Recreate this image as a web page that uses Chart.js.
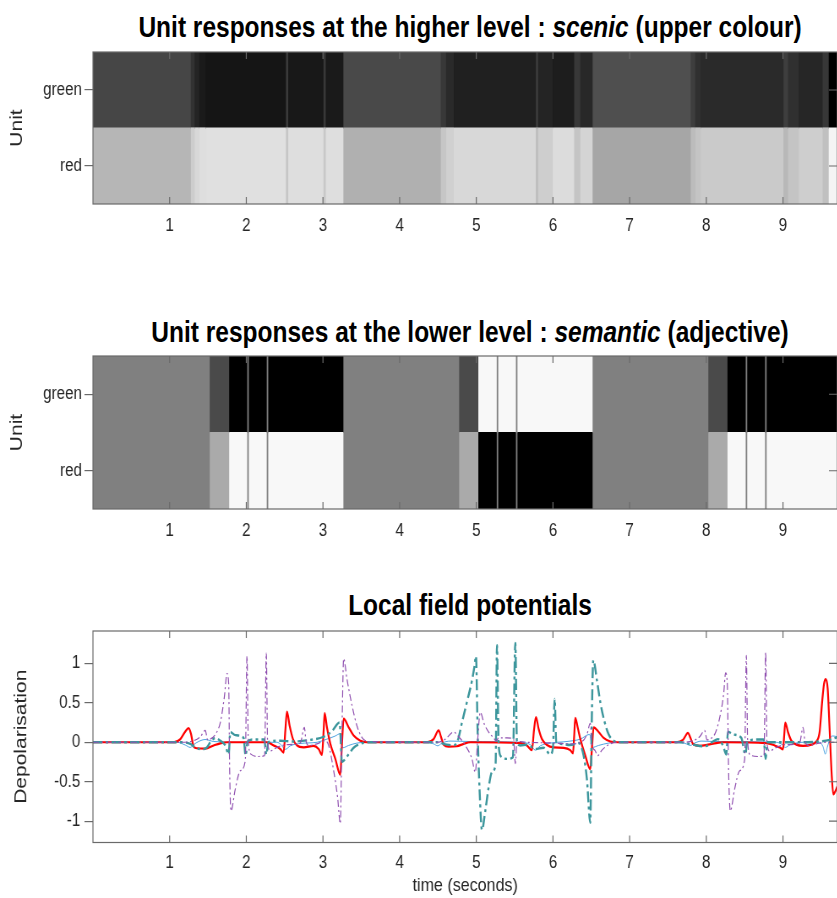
<!DOCTYPE html>
<html>
<head>
	<meta charset="utf-8">
	<title>Unit responses and local field potentials</title>
	<script src="https://cdn.jsdelivr.net/npm/chart.js@4.4.1/dist/chart.umd.min.js"></script>
	<style>
		html, body {
			margin: 0;
			padding: 0;
			background: #fff;
		}
		body {
			position: relative;
			width: 837px;
			height: 898px;
			overflow: hidden;
			font-family: "Liberation Sans", Arial, sans-serif;
		}
		/* the original figure is squeezed sideways, so the canvases are too */
		canvas {
			position: absolute;
			left: 0;
			transform: scaleX(0.845);
			transform-origin: 0 0;
		}
		.ttl {
			position: absolute;
			left: 470px;
			white-space: nowrap;
			font-weight: bold;
			font-size: 29px;
			line-height: 1;
			color: #000;
			transform: translate(-50%, -50%) scaleX(0.845);
		}
	</style>
</head>
<body>
<div class="ttl" style="top:27px">Unit responses at the higher level : <i>scenic</i> (upper colour)</div>
<div class="ttl" style="top:332px">Unit responses at the lower level : <i>semantic</i> (adjective)</div>
<div class="ttl" style="top:605px">Local field potentials</div>
<canvas id="higher" width="991" height="240" style="top:0"></canvas>
<canvas id="lower" width="991" height="244" style="top:300px"></canvas>
<canvas id="lfp" width="991" height="338" style="top:560px"></canvas>
<script>
	const units = ['green', 'red'];
	const timeTicks = [1, 2, 3, 4, 5, 6, 7, 8, 9];
	const depolTicks = [-1, -0.5, 0, 0.5, 1];
	const tMax = 9.71;

	// higher level (scenic) : segment edges in seconds, grey level per segment
	const higherTimes = [0, 1.27, 1.32, 1.38, 1.465, 2.51, 2.54, 3.0, 3.03, 3.26, 4.53, 4.6, 4.7, 5.77, 5.8, 5.99, 6.27, 6.35, 6.51, 7.79, 7.85, 7.92, 9.0, 9.06, 9.2, 9.51, 9.59, 9.71];
	const higherGreen = [70, 50, 36, 26, 21, 58, 24, 56, 26, 73, 56, 42, 32, 60, 36, 29, 56, 40, 79, 62, 48, 42, 62, 48, 38, 55, 0];
	const higherRed = [182, 205, 216, 222, 224, 198, 222, 200, 222, 176, 198, 208, 216, 190, 206, 220, 196, 212, 166, 188, 196, 202, 184, 196, 206, 192, 244];

	// lower level (semantic)
	const lowerTimes = [0, 1.516, 1.77, 2.006, 2.026, 2.26, 2.28, 3.26, 4.77, 5.02, 5.26, 5.28, 5.51, 5.53, 6.51, 8.02, 8.27, 8.507, 8.527, 8.76, 8.78, 9.71];
	const lowerGreen = [128, 74, 0, 128, 0, 128, 0, 128, 74, 248, 128, 248, 128, 248, 128, 74, 0, 128, 0, 128, 0];
	const lowerRed = [128, 170, 248, 128, 248, 128, 248, 128, 170, 0, 128, 0, 128, 0, 128, 170, 248, 128, 248, 128, 248];

	// local field potentials, [time, depolarisation]
	const lfpRed = [[0,0],[1.05,0],[1.14,0.04],[1.2,0.13],[1.248,0.18],[1.278,0.11],[1.313,-0.055],[1.357,-0.076],[1.465,-0.08],[1.574,-0.04],[1.661,-0.013],[1.75,0],
		[2.27,0],[2.357,-0.04],[2.443,-0.085],[2.487,-0.13],[2.509,0.15],[2.53,0.39],[2.565,0.21],[2.609,0.04],[2.661,-0.04],[2.748,-0.065],[2.878,-0.045],[2.943,-0.085],[2.987,-0.16],[3.009,0.15],[3.022,0.37],[3.052,0.19],[3.096,-0.02],[3.161,-0.21],[3.226,-0.41],[3.248,-0.02],[3.27,0.3],[3.335,0.19],[3.4,0.085],[3.487,0.02],[3.574,0],
		[4.357,0],[4.443,0.04],[4.509,0.15],[4.539,0.07],[4.574,-0.03],[4.639,-0.055],[4.748,-0.05],[4.835,-0.02],[4.922,0],
		[5.574,-0.01],[5.661,-0.04],[5.726,-0.1],[5.752,0.15],[5.778,0.32],[5.813,0.17],[5.857,0.04],[5.922,-0.035],[6.009,-0.065],[6.139,-0.07],[6.226,-0.1],[6.261,-0.14],[6.278,0.1],[6.291,0.31],[6.322,0.19],[6.357,0.04],[6.422,-0.17],[6.487,-0.34],[6.509,-0.065],[6.53,0.19],[6.596,0.13],[6.661,0.055],[6.748,0.01],[6.835,0],
		[7.609,0],[7.696,0.03],[7.761,0.12],[7.791,0.06],[7.826,-0.02],[7.913,-0.045],[8.022,-0.03],[8.13,-0.01],[8.217,0],
		[8.783,-0.01],[8.891,-0.04],[8.965,-0.07],[9.0,-0.09],[9.017,0.1],[9.03,0.25],[9.065,0.13],[9.109,0.02],[9.174,-0.03],[9.261,-0.045],[9.37,-0.03],[9.435,0.01],[9.478,0.13],[9.509,0.49],[9.535,0.74],[9.557,0.8],[9.583,0.68],[9.609,0.15],[9.635,-0.4],[9.657,-0.66],[9.678,-0.63],[9.71,-0.56]];
	const lfpTeal = [[0,0],[1.139,0],[1.27,-0.02],[1.335,-0.065],[1.422,-0.09],[1.487,-0.065],[1.53,0],[1.596,0.055],[1.661,0.02],[1.726,-0.04],[1.77,-0.155],[1.791,0.13],[1.857,0.09],[1.965,0.055],[1.991,-0.17],[2.017,0.01],[2.096,0.035],[2.235,0.035],[2.261,-0.155],[2.287,0],[2.443,0.02],[2.617,0.01],[2.835,0.03],[3.009,0.07],[3.117,0.14],[3.217,0.25],[3.248,-0.25],[3.313,-0.18],[3.4,-0.07],[3.487,-0.02],[3.596,0],
		[4.487,0],[4.617,-0.03],[4.704,-0.04],[4.757,0.02],[4.813,0.25],[4.878,0.51],[4.943,0.78],[4.974,0.95],[4.996,1.09],[5.017,0.15],[5.043,-0.61],[5.074,-1.11],[5.117,-0.87],[5.161,-0.57],[5.204,-0.38],[5.252,-0.27],[5.27,1.23],[5.291,-0.02],[5.322,-0.18],[5.4,-0.21],[5.478,-0.19],[5.509,1.26],[5.53,0],[5.574,-0.04],[5.661,-0.03],[5.77,-0.085],[5.878,-0.07],[5.965,-0.155],[6.0,-0.065],[6.022,0.55],[6.043,0],[6.096,-0.02],[6.226,-0.035],[6.335,-0.01],[6.4,-0.17],[6.443,-0.47],[6.487,-1.02],[6.504,0.15],[6.526,1.04],[6.574,0.78],[6.617,0.51],[6.67,0.27],[6.726,0.1],[6.791,0.02],[6.878,0],
		[7.652,0],[7.826,-0.03],[7.957,-0.05],[8.022,-0.04],[8.087,0.01],[8.152,0.04],[8.217,-0.04],[8.261,-0.155],[8.283,0.135],[8.348,0.1],[8.457,0.055],[8.509,-0.155],[8.535,0.01],[8.652,0.035],[8.748,0.035],[8.774,-0.21],[8.796,0],[9.217,0],[9.478,0.01],[9.609,0.03],[9.71,0.065]];
	const lfpPurple = [[0,0],[1.139,0],[1.313,0.02],[1.4,0.07],[1.465,0.15],[1.496,0.03],[1.53,0.04],[1.596,0.1],[1.661,0.25],[1.713,0.57],[1.748,0.87],[1.77,0.74],[1.783,-0.36],[1.8,-0.87],[1.857,-0.59],[1.922,-0.36],[1.987,-0.23],[2.009,1.09],[2.026,0.02],[2.061,-0.15],[2.161,-0.18],[2.239,-0.17],[2.261,1.13],[2.278,0],[2.313,-0.11],[2.4,-0.065],[2.53,-0.03],[2.704,-0.01],[2.757,0.19],[2.778,0.02],[2.813,-0.04],[2.922,-0.02],[3.03,0.02],[3.074,-0.04],[3.139,-0.36],[3.191,-0.7],[3.226,-1.03],[3.248,0.15],[3.27,1.06],[3.313,0.8],[3.378,0.47],[3.443,0.21],[3.509,0.06],[3.596,0.01],
		[4.487,0],[4.596,0.04],[4.704,0.13],[4.77,0.07],[4.857,-0.04],[4.943,-0.21],[4.987,-0.38],[5.017,0.02],[5.052,0.38],[5.104,0.23],[5.161,0.13],[5.226,0.055],[5.261,0.02],[5.291,0.055],[5.4,0.055],[5.487,0.04],[5.509,-0.27],[5.53,0.01],[5.661,0],[6.009,-0.01],[6.226,-0.02],[6.378,0.01],[6.443,0.1],[6.487,0.24],[6.509,-0.02],[6.552,-0.11],[6.583,-0.17],[6.639,-0.1],[6.726,-0.03],[6.835,0],
		[7.652,0],[7.826,0.02],[7.913,0.07],[7.978,0.15],[8.009,0.03],[8.043,0.04],[8.109,0.1],[8.174,0.31],[8.226,0.61],[8.252,0.88],[8.274,0.74],[8.291,-0.36],[8.313,-0.87],[8.37,-0.59],[8.435,-0.36],[8.5,-0.22],[8.522,1.1],[8.539,0.02],[8.574,-0.16],[8.674,-0.18],[8.752,-0.17],[8.774,1.14],[8.791,-0.01],[8.826,-0.11],[8.913,-0.065],[9.043,-0.03],[9.217,-0.01],[9.261,0.19],[9.287,0.02],[9.326,-0.04],[9.435,-0.02],[9.565,0],[9.71,0]];
	const lfpBlue = [[0,0],[1.096,0],[1.204,-0.035],[1.27,-0.065],[1.313,-0.03],[1.378,0.01],[1.465,0.035],[1.574,0.01],[1.965,0],[2.4,0],[2.452,-0.03],[2.509,-0.09],[2.574,-0.045],[2.704,-0.015],[2.922,0],[3.052,0.04],[3.161,0.08],[3.226,0.11],[3.257,-0.07],[3.335,-0.04],[3.443,-0.01],[3.574,0],
		[4.357,0],[4.443,-0.02],[4.496,-0.045],[4.552,-0.01],[4.661,0.015],[4.922,0.01],[5.574,0],[5.704,-0.03],[5.77,-0.1],[5.835,-0.045],[5.965,-0.01],[6.183,0.01],[6.357,0.04],[6.478,0.1],[6.513,-0.065],[6.596,-0.04],[6.726,-0.01],[6.878,0],
		[7.652,0],[7.739,-0.02],[7.791,-0.04],[7.848,-0.01],[7.935,0.015],[8.087,0.01],[8.913,0],[8.991,-0.03],[9.03,-0.065],[9.096,-0.03],[9.261,0],[9.478,0],[9.522,-0.055],[9.552,-0.15],[9.578,-0.065],[9.617,0.055],[9.652,0.08],[9.71,0.07]];

	Chart.defaults.font.family = "'Liberation Sans', Arial, sans-serif";
	Chart.defaults.color = '#262626';
	const axisColour = '#6a6a6a';
	const tickFont = {size: 18};
	const grey = v => 'rgb(' + v + ',' + v + ',' + v + ')';

	// matlab style box with the ticks pointing inwards
	const matlabBox = {
		id: 'matlabBox',
		afterDatasetsDraw(chart) {
			const {ctx, chartArea: a, scales} = chart;
			ctx.save();
			ctx.strokeStyle = axisColour;
			ctx.lineWidth = 1.2;
			ctx.beginPath();
			scales.x.ticks.forEach(t => {
				const px = scales.x.getPixelForValue(t.value);
				ctx.moveTo(px, a.top);
				ctx.lineTo(px, a.top + 7);
				ctx.moveTo(px, a.bottom);
				ctx.lineTo(px, a.bottom - 7);
			});
			scales.y.ticks.forEach((t, i) => {
				const py = scales.y.getPixelForTick(i);
				ctx.moveTo(a.right, py);
				ctx.lineTo(a.right - 10, py);
			});
			ctx.stroke();
			ctx.strokeRect(a.left, a.top, a.right - a.left, a.bottom - a.top);
			ctx.restore();
		}
	};

	function xAxis(height, padding, title) {
		return {
			type: 'linear',
			min: 0,
			max: tMax,
			afterBuildTicks: s => { s.ticks = timeTicks.map(v => ({value: v})); },
			afterFit: s => { s.height = height; },
			grid: {display: false},
			border: {display: false},
			ticks: {padding: padding, font: tickFont, maxRotation: 0},
			title: title ? {display: true, text: title, font: {size: 19}, padding: {top: 0, bottom: 1}} : {display: false}
		};
	}

	function heatmap(id, top, axisHeight, times, greenShade, redShade) {
		const datasets = greenShade.map((g, i) => ({
			data: [[times[i], times[i + 1]], [times[i], times[i + 1]]],
			backgroundColor: [grey(g), grey(redShade[i])],
			borderWidth: 0,
			inflateAmount: 0.6,
			barPercentage: 1,
			categoryPercentage: 1,
			grouped: false
		}));
		return new Chart(document.getElementById(id), {
			type: 'bar',
			data: {labels: units, datasets: datasets},
			options: {
				indexAxis: 'y',
				responsive: false,
				animation: false,
				layout: {padding: {top: top, left: 0, right: 0, bottom: 0}},
				plugins: {legend: {display: false}, tooltip: {enabled: false}},
				scales: {
					x: xAxis(axisHeight, 3),
					y: {
						type: 'category',
						afterFit: s => { s.width = 110; },
						grid: {offset: false, drawOnChartArea: false, tickLength: 10, color: axisColour, lineWidth: 1.2},
						border: {display: false},
						ticks: {padding: 3, font: tickFont},
						title: {display: true, text: 'Unit', font: {size: 21}, padding: {top: 8, bottom: 0}}
					}
				}
			},
			plugins: [matlabBox]
		});
	}

	heatmap('higher', 52, 36, higherTimes, higherGreen, higherRed);
	heatmap('lower', 56, 35, lowerTimes, lowerGreen, lowerRed);

	const lfpSeries = [
		{pts: lfpBlue, colour: '#4da3e0', width: 1, dash: [], order: 3},
		{pts: lfpRed, colour: '#ff0000', width: 2.2, dash: [], order: 2},
		{pts: lfpTeal, colour: '#3c969c', width: 2.4, dash: [11, 4, 3, 4], order: 1},
		{pts: lfpPurple, colour: '#9050b0', width: 1.2, dash: [7, 3, 2, 3], order: 0}
	];

	new Chart(document.getElementById('lfp'), {
		type: 'line',
		data: {
			datasets: lfpSeries.map(s => ({
				data: s.pts.map(p => ({x: p[0], y: p[1]})),
				borderColor: s.colour,
				borderWidth: s.width,
				borderDash: s.dash,
				order: s.order,
				pointRadius: 0,
				fill: false,
				cubicInterpolationMode: 'monotone'
			}))
		},
		options: {
			responsive: false,
			animation: false,
			layout: {padding: {top: 71, left: 0, right: 0, bottom: 0}},
			plugins: {legend: {display: false}, tooltip: {enabled: false}},
			scales: {
				x: xAxis(55.5, 2, 'time (seconds)'),
				y: {
					type: 'linear',
					min: -1.27,
					max: 1.41,
					afterBuildTicks: s => { s.ticks = depolTicks.map(v => ({value: v})); },
					afterFit: s => { s.width = 110; },
					grid: {drawOnChartArea: false, tickLength: 10, color: axisColour, lineWidth: 1.2},
					border: {display: false},
					ticks: {padding: 5, font: tickFont, callback: v => String(v)},
					title: {display: true, text: 'Depolarisation', font: {size: 21}, padding: {top: 13, bottom: 0}}
				}
			}
		},
		plugins: [matlabBox]
	});
</script>
</body>
</html>
